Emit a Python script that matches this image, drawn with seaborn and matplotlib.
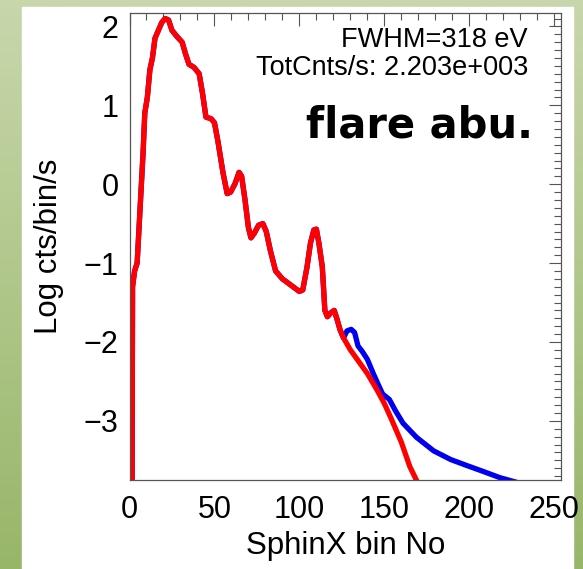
import numpy as np
import pandas as pd
import matplotlib
matplotlib.use("Agg")
import matplotlib.pyplot as plt
from matplotlib.patches import Rectangle
from matplotlib.ticker import MultipleLocator
import seaborn as sns

# ---- data ----
common_x = [1.5, 1.8, 3, 4.5, 5.5, 7, 8, 9, 10.5, 12, 13.5, 15, 17, 19, 21, 23, 25, 28, 31,
            33, 35, 38, 41, 43, 45, 48, 50, 52, 55, 57.5, 59.5, 62, 64.5, 66, 68, 70, 71.5,
            73.5, 76, 78.5, 80.5, 83, 86, 90, 95, 100, 102, 104.5, 106.5, 108.5, 110, 111.5,
            113.5, 115, 116.5, 118.5, 120.5, 122, 124, 126]
common_y = [-3.9, -1.3, -1.1, -1.0, -0.6, 0.0, 0.4, 0.9, 1.1, 1.45, 1.6, 1.85, 1.95, 2.05, 2.1,
            2.08, 1.95, 1.87, 1.8, 1.65, 1.52, 1.48, 1.4, 1.15, 0.85, 0.83, 0.78, 0.55, 0.15,
            -0.12, -0.1, 0.0, 0.15, 0.1, -0.2, -0.55, -0.68, -0.62, -0.52, -0.5, -0.6, -0.85,
            -1.1, -1.2, -1.28, -1.36, -1.34, -1.05, -0.75, -0.58, -0.57, -0.75, -1.05, -1.6,
            -1.68, -1.63, -1.6, -1.7, -1.85, -1.95]
red_tail_x = [130, 135, 140, 146, 150, 154, 160, 165, 170, 172]
red_tail_y = [-2.1, -2.25, -2.4, -2.62, -2.78, -2.97, -3.27, -3.58, -3.8, -3.9]
blue_tail_x = [128, 130.5, 132.5, 134.5, 137, 140, 143.5, 146, 149, 153, 156.5, 161, 169, 179,
               189, 199, 208, 218, 228]
blue_tail_y = [-1.86, -1.84, -1.88, -2.05, -2.12, -2.22, -2.4, -2.52, -2.66, -2.73, -2.87,
               -3.03, -3.21, -3.38, -3.49, -3.57, -3.64, -3.72, -3.78]

annot1 = "FWHM=318 eV"
annot2 = "TotCnts/s: 2.203e+003"
annot3 = "flare abu."

blue_df = pd.DataFrame({"bin": common_x + blue_tail_x, "logc": common_y + blue_tail_y})
red_df = pd.DataFrame({"bin": common_x + red_tail_x, "logc": common_y + red_tail_y})

sns.set_style("white")
plt.rcParams["font.family"] = ["Liberation Sans", "DejaVu Sans"]
plt.rcParams["text.color"] = "black"
plt.rcParams["axes.labelcolor"] = "black"

W, H = 583, 569
fig = plt.figure(figsize=(W / 100, H / 100), dpi=100)

# background: green gradient with a white panel
bg = fig.add_axes([0, 0, 1, 1], zorder=-10)
top = np.array([200, 215, 172]) / 255
bot = np.array([152, 182, 105]) / 255
t = np.linspace(0, 1, 256)[:, None]
grad = top[None, :] * (1 - t) + bot[None, :] * t
bg.imshow(grad[:, None, :], aspect="auto", extent=[0, 1, 0, 1], origin="upper")
bg.add_patch(Rectangle((22 / W, 0), (573 - 22) / W, 1 - 7 / H, color="white", zorder=2))
bg.set_xlim(0, 1)
bg.set_ylim(0, 1)
bg.axis("off")

ax = fig.add_axes([129.5 / W, 1 - 480 / H, (561 - 129.5) / W, (480 - 13) / H])
ax.set_facecolor("white")

sns.lineplot(data=blue_df, x="bin", y="logc", ax=ax, color="#0000ee", lw=3.8,
             estimator=None, sort=False, solid_joinstyle="round", solid_capstyle="round")
sns.lineplot(data=red_df, x="bin", y="logc", ax=ax, color="#ff0000", lw=3.8,
             estimator=None, sort=False, solid_joinstyle="round", solid_capstyle="round")

ax.set_xlim(0, 254)
ax.set_ylim(-3.75, 2.17)
ax.xaxis.set_major_locator(MultipleLocator(50))
ax.xaxis.set_minor_locator(MultipleLocator(10))
ax.yaxis.set_major_locator(MultipleLocator(1))
ax.yaxis.set_minor_locator(MultipleLocator(0.1))
ax.tick_params(which="both", direction="in", top=True, right=True, color="#555555",
               width=0.8, labelcolor="black")
ax.tick_params(which="major", length=9, labelsize=22)
ax.tick_params(axis="x", which="major", pad=11)
ax.tick_params(axis="y", which="major", pad=8)
ax.tick_params(which="minor", length=5)
for s in ax.spines.values():
    s.set_color("#555555")
    s.set_linewidth(0.9)

ax.set_xlabel("SphinX bin No", fontsize=22.5, labelpad=4)
ax.set_ylabel("Log cts/bin/s", fontsize=22.5, labelpad=14)

ax.text(528 / W, 1 - 47 / H, annot1, transform=fig.transFigure, ha="right",
        va="baseline", fontsize=19.5)
ax.text(528 / W, 1 - 75 / H, annot2, transform=fig.transFigure, ha="right",
        va="baseline", fontsize=19.5)
ax.text(533 / W, 1 - 137 / H, annot3, transform=fig.transFigure, ha="right",
        va="baseline", fontsize=30, fontweight="bold", family=["DejaVu Sans"])

fig.savefig("out.png", dpi=100)
